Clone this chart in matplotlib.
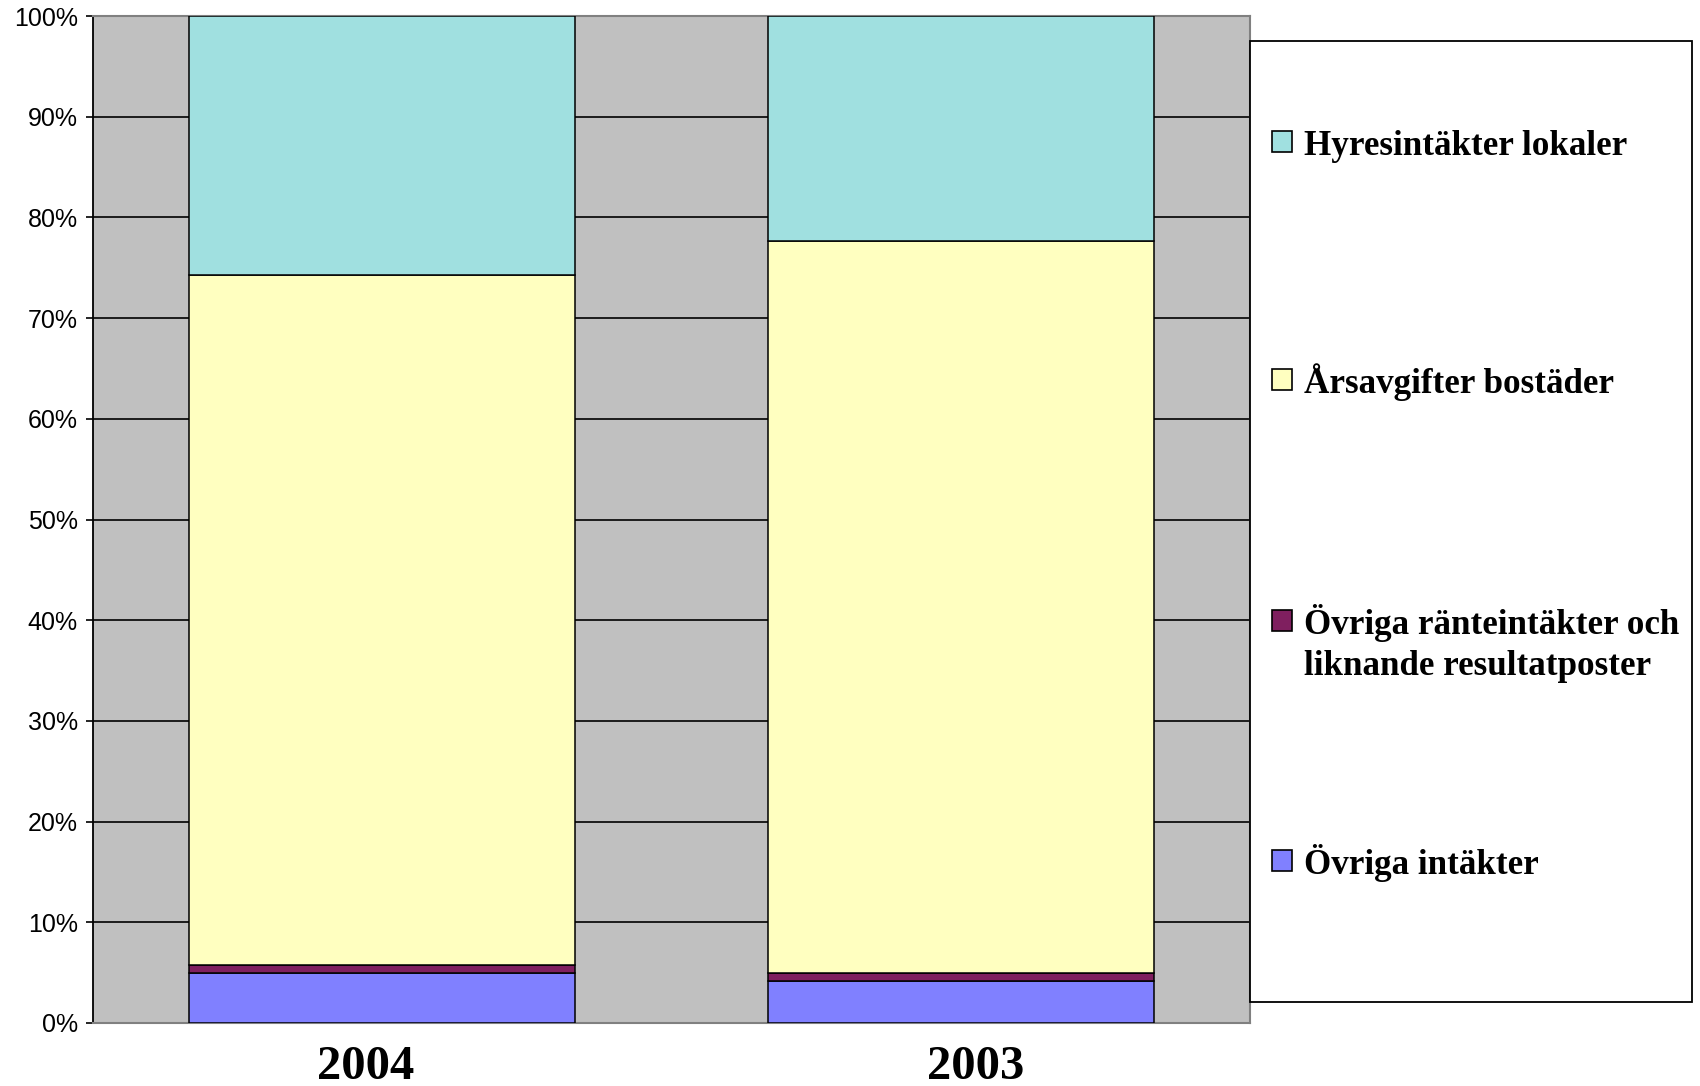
import matplotlib
matplotlib.use("Agg")
import matplotlib.pyplot as plt
from matplotlib.patches import Rectangle
from matplotlib.transforms import ScaledTranslation
import numpy as np

# data (percent of total income)
years = ["2004", "2003"]
ovriga_intakter = [5.0, 4.2]
ranteintakter = [0.8, 0.8]
arsavgifter = [68.5, 72.7]
hyresintakter = [25.7, 22.3]

series = [ovriga_intakter, ranteintakter, arsavgifter, hyresintakter]
series_names = ["Övriga intäkter",
                "Övriga ränteintäkter och\nliknande resultatposter",
                "Årsavgifter bostäder",
                "Hyresintäkter lokaler"]
series_colors = ["#8080FF", "#7F1F5F", "#FFFFC0", "#A0E0E0"]
yticks = list(range(0, 101, 10))

W, H = 1700, 1086
fig = plt.figure(figsize=(W / 100, H / 100), dpi=100)
ax = fig.add_axes([93 / W, 1 - 1023 / H, (1250 - 93) / W, (1023 - 16) / H])
ax.set_facecolor("#C0C0C0")

x = np.arange(len(years))
bottom = np.zeros(len(years))
for vals, col in zip(series, series_colors):
    ax.bar(x, vals, width=0.667, bottom=bottom, color=col,
           edgecolor="black", linewidth=1.1, zorder=3)
    bottom += np.array(vals)

ax.set_xlim(-0.5, 1.5)
ax.set_ylim(0, 100)
ax.set_yticks(yticks)
ax.set_yticklabels([f"{v}%" for v in yticks], fontsize=18, family="Liberation Sans")
ax.set_xticks(x)
ax.set_xticklabels(years, fontsize=35, fontweight="bold", family="Liberation Serif")
ax.tick_params(axis="x", length=0, pad=16)
ax.tick_params(axis="y", length=5, width=1.2, direction="out", pad=6)
# Excel placed the year labels slightly off the bar centres
for lab, dx in zip(ax.get_xticklabels(), [-0.17, 0.15]):
    lab.set_transform(lab.get_transform() + ScaledTranslation(dx, 0, fig.dpi_scale_trans))
ax.yaxis.grid(True, color="black", linewidth=1.2, zorder=1)
ax.set_axisbelow(True)
for s in ["top", "right", "bottom"]:
    ax.spines[s].set_color("#808080")
    ax.spines[s].set_linewidth(1.5)
ax.spines["left"].set_color("black")
ax.spines["left"].set_linewidth(1.3)

# legend box drawn by hand to match the tall layout
fig.patches.append(Rectangle((1250 / W, 1 - 1002 / H), (1692 - 1250) / W, (1002 - 41) / H,
                             transform=fig.transFigure, facecolor="white",
                             edgecolor="black", linewidth=1.3, zorder=5))
entry_y = [861, 621, 380, 142]
for name, col, yc in zip(series_names, series_colors, entry_y):
    fig.patches.append(Rectangle((1272 / W, 1 - (yc + 10) / H), 20 / W, 21 / H,
                                 transform=fig.transFigure, facecolor=col,
                                 edgecolor="black", linewidth=1.2, zorder=6))
    for i, line in enumerate(name.split("\n")):
        fig.text(1304 / W, 1 - (yc + 13 + 41 * i) / H, line, fontsize=25.2,
                 fontweight="bold", family="Liberation Serif",
                 va="baseline", ha="left", zorder=6)

fig.savefig("out.png", dpi=100)
